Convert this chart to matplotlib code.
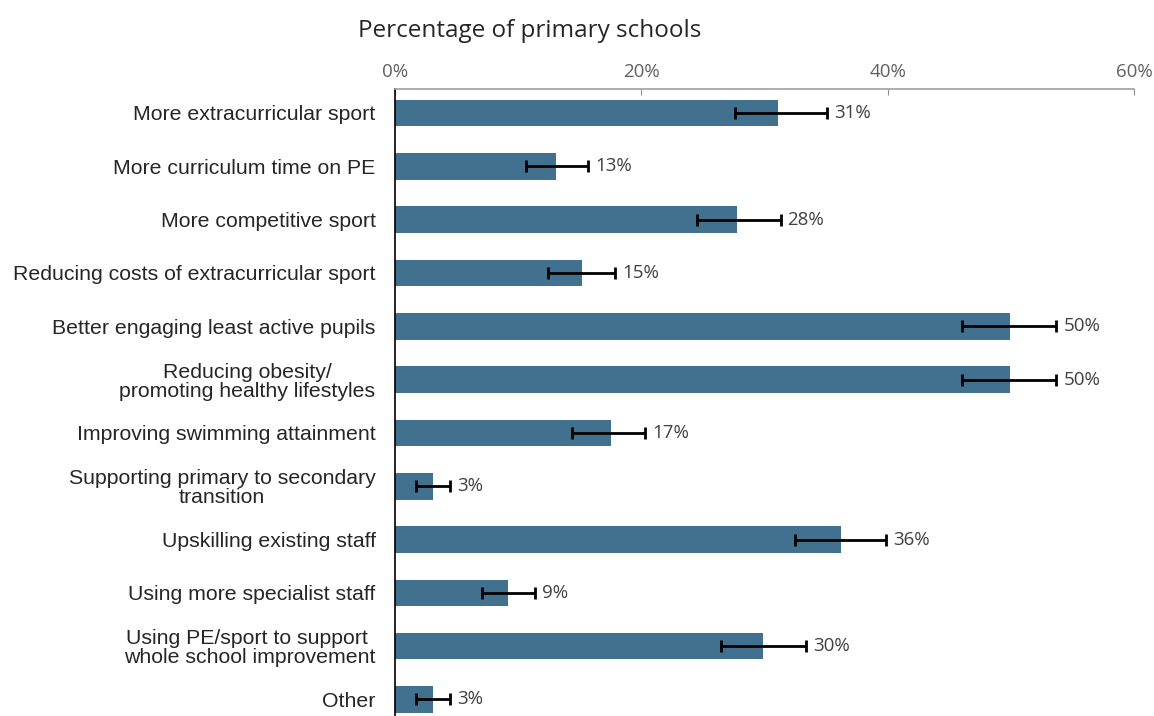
import numpy as np
import matplotlib.pyplot as plt

# -------- data --------
categories = [
    "More extracurricular sport",
    "More curriculum time on PE",
    "More competitive sport",
    "Reducing costs of extracurricular sport",
    "Better engaging least active pupils",
    "Reducing obesity/\npromoting healthy lifestyles",
    "Improving swimming attainment",
    "Supporting primary to secondary\ntransition",
    "Upskilling existing staff",
    "Using more specialist staff",
    "Using PE/sport to support \nwhole school improvement",
    "Other",
]
values = [31.1, 13.1, 27.8, 15.2, 49.9, 49.9, 17.5, 3.1, 36.2, 9.2, 29.9, 3.1]
err_low = [27.6, 10.6, 24.5, 12.4, 46.0, 46.0, 14.4, 1.7, 32.5, 7.1, 26.5, 1.7]
err_high = [35.1, 15.7, 31.3, 17.9, 53.7, 53.7, 20.3, 4.5, 39.9, 11.4, 33.4, 4.5]
labels = ["31%", "13%", "28%", "15%", "50%", "50%", "17%", "3%", "36%", "9%", "30%", "3%"]

BAR = "#41718f"
W, H = 1154, 716
OPEN = ["Open Sans", "DejaVu Sans"]

fig = plt.figure(figsize=(W / 100, H / 100), dpi=100)
ax = fig.add_axes([395 / W, 0, (1134 - 395) / W, 1 - 89 / H])

y = np.arange(len(categories))
vals = np.array(values)
xerr = np.array([vals - np.array(err_low), np.array(err_high) - vals])

ax.barh(y, vals, height=0.5, color=BAR, zorder=2)
ax.errorbar(vals, y, xerr=xerr, fmt="none", ecolor="black", elinewidth=2,
            capsize=4, capthick=2, zorder=3)

for yi, hi, lab in zip(y, err_high, labels):
    ax.annotate(lab, (hi, yi), xytext=(5, 0), textcoords="offset points",
                va="center", ha="left", fontsize=13.5, color="#404040",
                family=OPEN)

ax.set_xlim(0, 60)
ax.set_ylim(11.31, -0.45)
ax.set_xticks([0, 20, 40, 60])
ax.set_xticklabels(["0%", "20%", "40%", "60%"], fontsize=13.5, color="#606060",
                   family=OPEN)
ax.xaxis.tick_top()
ax.tick_params(axis="x", direction="in", length=4, color="#909090", pad=6)

ax.set_yticks(y)
ax.set_yticklabels(categories, fontsize=15.3, color="#262626",
                   family=["Liberation Sans", "DejaVu Sans"])
ax.tick_params(axis="y", length=0, pad=14)
for lbl in ax.get_yticklabels():
    lbl.set_multialignment("center")
    lbl.set_linespacing(1.0)

for s in ["right", "bottom"]:
    ax.spines[s].set_visible(False)
ax.spines["top"].set_color("#a0a0a0")
ax.spines["top"].set_linewidth(1.2)
ax.spines["left"].set_color("black")
ax.spines["left"].set_linewidth(1.2)

fig.text(530 / W, 1 - 31 / H, "Percentage of primary schools", ha="center",
         va="center", fontsize=17.5, color="#262626", family=OPEN)

fig.savefig("out.png", dpi=100)
